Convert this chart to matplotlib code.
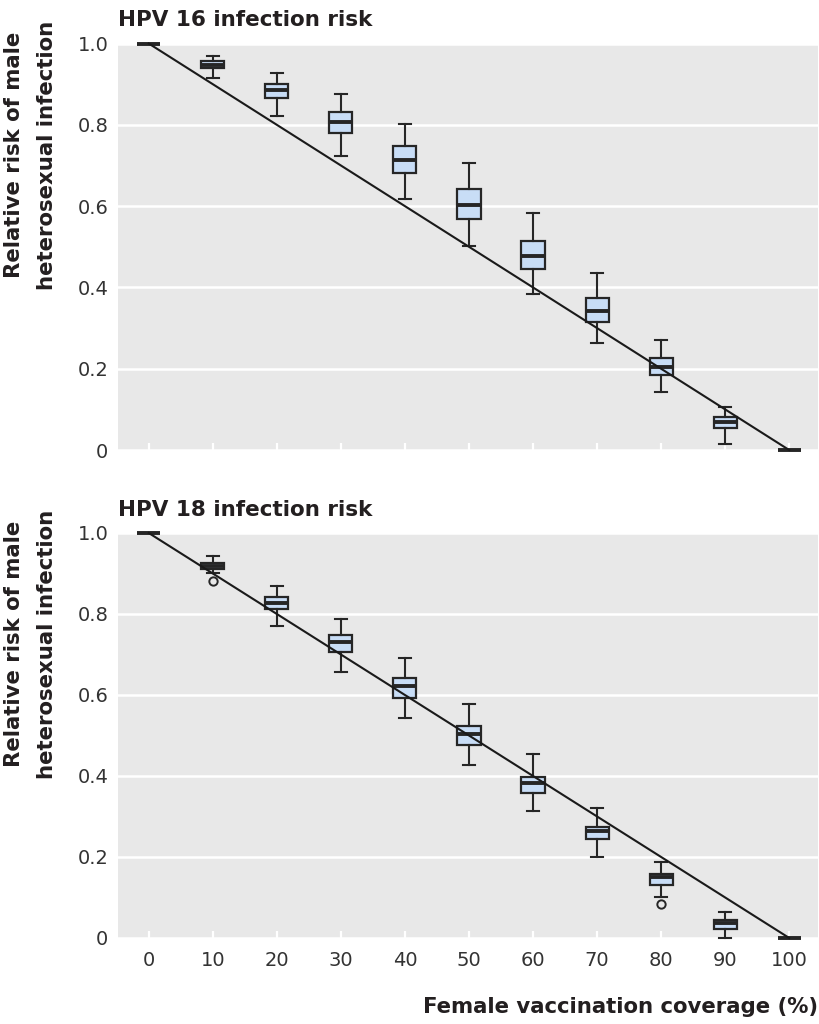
import matplotlib.pyplot as plt

# coverage levels (%)
coverage = [0, 10, 20, 30, 40, 50, 60, 70, 80, 90, 100]

# HPV 16 relative risk: boxplot summaries
hpv16_whishi = [1.0, 0.969, 0.928, 0.875, 0.801, 0.705, 0.584, 0.435, 0.271, 0.107, 0.0]
hpv16_q3 = [1.0, 0.956, 0.900, 0.832, 0.748, 0.641, 0.515, 0.373, 0.226, 0.082, 0.0]
hpv16_med = [1.0, 0.947, 0.886, 0.807, 0.713, 0.603, 0.477, 0.342, 0.204, 0.068, 0.0]
hpv16_q1 = [1.0, 0.939, 0.866, 0.781, 0.682, 0.568, 0.445, 0.316, 0.185, 0.054, 0.0]
hpv16_whislo = [1.0, 0.914, 0.822, 0.723, 0.617, 0.503, 0.385, 0.264, 0.142, 0.016, 0.0]
hpv16_fliers = [[], [], [], [], [], [], [], [], [], [], []]

# HPV 18 relative risk
hpv18_whishi = [1.0, 0.942, 0.870, 0.788, 0.691, 0.578, 0.454, 0.321, 0.188, 0.064, 0.0]
hpv18_q3 = [1.0, 0.927, 0.841, 0.748, 0.643, 0.523, 0.397, 0.275, 0.158, 0.044, 0.0]
hpv18_med = [1.0, 0.919, 0.826, 0.732, 0.621, 0.504, 0.382, 0.263, 0.150, 0.038, 0.0]
hpv18_q1 = [1.0, 0.910, 0.812, 0.706, 0.593, 0.477, 0.357, 0.244, 0.132, 0.021, 0.0]
hpv18_whislo = [1.0, 0.901, 0.771, 0.657, 0.542, 0.426, 0.314, 0.199, 0.102, 0.0, 0.0]
hpv18_fliers = [[], [0.881], [], [], [], [], [], [], [0.084], [], []]

# reference line: risk falls in proportion to coverage
line_x = [0, 100]
line_y = [1.0, 0.0]

titles = ['HPV 16 infection risk', 'HPV 18 infection risk']
ylabel = 'Relative risk of male\nheterosexual infection'
xlabel = 'Female vaccination coverage (%)'
yticks = [0, 0.2, 0.4, 0.6, 0.8, 1.0]
yticklabels = ['0', '0.2', '0.4', '0.6', '0.8', '1.0']

plt.rcParams['font.family'] = ['DejaVu Sans']

dark = '#262626'
textc = '#231f20'
fill = '#c8ddf6'
bg = '#e8e8e8'


def make_stats(whislo, q1, med, q3, whishi, fliers):
    stats = []
    for lo, a, m, b, hi, fl in zip(whislo, q1, med, q3, whishi, fliers):
        stats.append({'whislo': lo, 'q1': a, 'med': m, 'q3': b, 'whishi': hi, 'fliers': fl})
    return stats


def panel(ax, stats, title, show_xlabels):
    ax.set_facecolor(bg)
    for s in ax.spines.values():
        s.set_visible(False)
    ax.bxp(stats, positions=coverage, widths=3.6, capwidths=1.9, patch_artist=True,
           showfliers=True, manage_ticks=False,
           boxprops=dict(facecolor=fill, edgecolor=dark, linewidth=1.6),
           medianprops=dict(color=dark, linewidth=2.8, solid_capstyle='butt'),
           whiskerprops=dict(color=dark, linewidth=1.5),
           capprops=dict(color=dark, linewidth=1.5),
           flierprops=dict(marker='o', markerfacecolor='none', markeredgecolor=dark,
                           markersize=6, markeredgewidth=1.4))
    for a in ax.artists + ax.patches + ax.lines:
        a.set_clip_on(False)
    ax.plot(line_x, line_y, color='#1a1a1a', linewidth=1.5, zorder=4, clip_on=False)

    ax.set_xlim(-4.8, 104.5)
    ax.set_ylim(0, 1.0)
    ax.set_yticks(yticks)
    ax.set_yticklabels(yticklabels)
    ax.set_xticks(coverage)
    ax.grid(axis='y', color='white', linewidth=1.8)
    ax.set_axisbelow(True)
    ax.tick_params(axis='y', length=0, pad=7, labelsize=14, labelcolor='#333333')
    ax.tick_params(axis='x', direction='in', length=5, width=1.6, color='white',
                   pad=9.5, labelsize=14, labelcolor='#333333', labelbottom=show_xlabels)
    ax.set_title(title, loc='left', fontsize=15.5, fontweight='bold', color=textc, pad=12.5)
    ax.set_ylabel(ylabel, fontsize=15.3, fontweight='bold', color=textc, linespacing=1.8)
    ax.yaxis.set_label_coords(-0.087, 0.725)


fig = plt.figure(figsize=(8.2, 10.24), dpi=100)
ax1 = fig.add_axes([0.1439, 0.5605, 0.8537, 0.397])
ax2 = fig.add_axes([0.1439, 0.0840, 0.8537, 0.3955])

panel(ax1, make_stats(hpv16_whislo, hpv16_q1, hpv16_med, hpv16_q3, hpv16_whishi, hpv16_fliers),
      titles[0], False)
panel(ax2, make_stats(hpv18_whislo, hpv18_q1, hpv18_med, hpv18_q3, hpv18_whishi, hpv18_fliers),
      titles[1], True)

fig.text(0.9976, 0.0107, xlabel, ha='right', va='baseline', fontsize=15.3,
         fontweight='bold', color=textc)

fig.savefig('out.png', dpi=100)
